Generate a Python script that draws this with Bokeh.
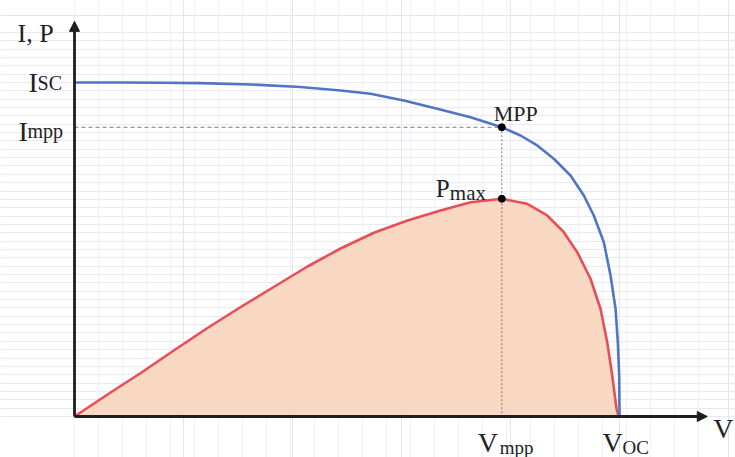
from bokeh.plotting import figure
from bokeh.models import Range1d, Label, Arrow, NormalHead, Grid, SingleIntervalTicker, ColumnDataSource
from bokeh.embed import file_html
from bokeh.resources import INLINE

# ---- data (voltage in % of Voc, current / power in % of Isc scale) ----
V_iv = [0, 8.44, 15.78, 23.12, 32.29, 41.47, 48.81, 54.31, 60.42, 66.55, 72.66, 78.4, 81.83, 84.90,
        87.94, 91.01, 93.45, 95.28, 97.12, 98.35, 99.27, 99.69, 99.94, 100]
I_iv = [100, 100, 99.94, 99.82, 99.40, 98.65, 97.60, 96.62, 94.61, 92.13, 89.61, 86.6, 84.13, 81.14,
        77.16, 72.16, 66.17, 60.18, 52.19, 42.22, 32.25, 22.25, 12.28, 0]

V_p = [0, 6.06, 12.29, 18.35, 24.40, 30.64, 36.70, 42.75, 48.99, 55.05, 61.10, 67.16, 72.66, 78.4,
       83.06, 86.73, 89.78, 92.24, 94.68, 96.51, 97.74, 98.66, 99.45, 99.82]
P_p = [0, 6.59, 13.17, 19.91, 26.50, 32.93, 38.92, 44.91, 50.45, 55.09, 58.68, 61.68, 64.16, 65.2,
       63.68, 60.18, 55.18, 49.19, 41.23, 32.25, 22.25, 12.28, 2.31, 0]

Isc = 100
Voc = 100
Vmpp = 78.4
Impp = 86.6
Pmax = 65.2

axis_top = 118.3
axis_end = 116.1

FONT = "Liberation Serif"
BLUE = "#5075c4"
RED = "#e84e57"
FILL = "#f8d5be"
AXIS = "#1e1e1e"

p = figure(width=735, height=457, output_backend="svg", toolbar_location=None,
           x_range=Range1d(-13.58, 121.28), y_range=Range1d(-12.28, 124.55),
           x_axis_location=None, y_axis_location=None, min_border=0,
           outline_line_color=None, background_fill_color="white")

# faint background grid
p.add_layout(Grid(dimension=1, ticker=SingleIntervalTicker(interval=2.5), bounds=(0, 117),
                  grid_line_color="#e8eaf4", grid_line_width=1))
p.add_layout(Grid(dimension=0, ticker=SingleIntervalTicker(interval=4.4), bounds=(0, 117),
                  grid_line_color="#f1f2f8", grid_line_width=1))

# power area + curves
src_p = ColumnDataSource(dict(v=V_p, pw=P_p, z=[0] * len(V_p)))
p.varea(x="v", y1="z", y2="pw", source=src_p, fill_color=FILL, fill_alpha=0.92)
p.line(x="v", y="pw", source=src_p, line_color=RED, line_width=2.6, line_join="round")
p.line(V_iv, I_iv, line_color=BLUE, line_width=2.6, line_join="round")

# dashed guides
p.line([0, Vmpp], [Impp, Impp], line_color="#7a7a7a", line_width=1.2, line_dash="4 3")
p.line([Vmpp, Vmpp], [Impp, 0], line_color="#8a8a8a", line_width=1.2, line_dash="2 2")

# points
p.scatter([Vmpp, Vmpp], [Impp, Pmax], size=7, color="black")

# axes as arrows
p.add_layout(Arrow(x_start=0, y_start=0, x_end=0, y_end=axis_top, line_width=2.8, line_color=AXIS,
                   end=NormalHead(size=10, fill_color=AXIS, line_color=AXIS)))
p.add_layout(Arrow(x_start=0, y_start=0, x_end=axis_end, y_end=0, line_width=2.8, line_color=AXIS,
                   end=NormalHead(size=10, fill_color=AXIS, line_color=AXIS)))


def lab(text, x, y, dx, dy, size, align="left"):
    p.add_layout(Label(x=x, y=y, x_offset=dx, y_offset=dy, text=text, text_font=FONT,
                       text_font_size=f"{size}px", text_color="#222222", text_align=align,
                       text_baseline="alphabetic"))


lab("I, P", 0, axis_top, -57, -12, 26)
lab("I", 0, Isc, -46, 0, 28)
lab("SC", 0, Isc, -37, -1, 20)
lab("I", 0, Impp, -56, -4, 28)
lab("mpp", 0, Impp, -47, -4, 20)
lab("MPP", Vmpp, Impp, 14, 14, 22, "center")
lab("P", Vmpp, Pmax, -66, 10, 25)
lab("max", Vmpp, Pmax, -52, 6, 21)
lab("V", Vmpp, 0, -24, -26, 28)
lab("mpp", Vmpp, 0, -2, -31, 19)
lab("V", Voc, 0, -17, -26, 28)
lab("OC", Voc, 0, 3, -31, 19)
lab("V", axis_end, 0, 6, -12, 28)

open("out.html", "w").write(file_html(p, INLINE))
